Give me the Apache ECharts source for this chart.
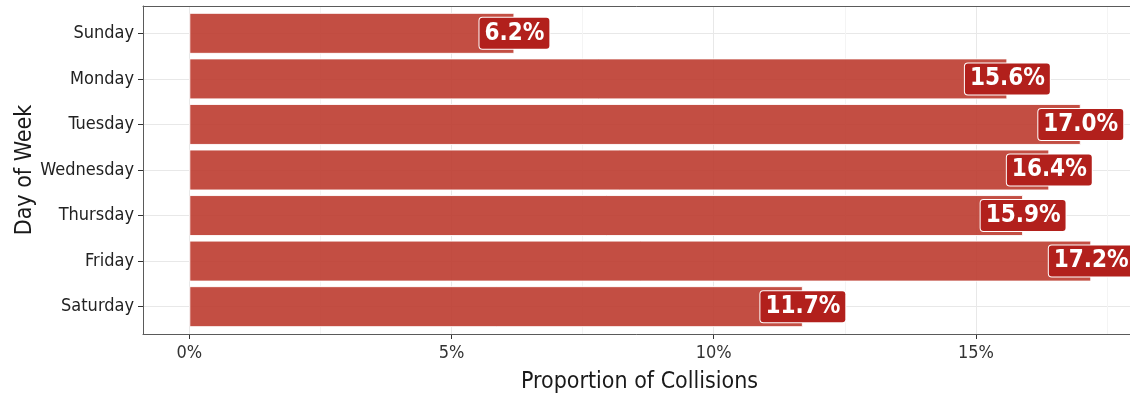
<!DOCTYPE html>
<html>
<head>
<meta charset="utf-8">
<script src="https://cdn.jsdelivr.net/npm/echarts@6/dist/echarts.min.js"></script>
<style>
  html, body { margin: 0; padding: 0; background: #fff; }
  #chart { width: 1130px; height: 398px; }
</style>
</head>
<body>
<div id="chart"></div>
<script>
// Share of collisions by day of week (percent)
const days = ['Sunday', 'Monday', 'Tuesday', 'Wednesday', 'Thursday', 'Friday', 'Saturday'];
const shares = [6.2, 15.6, 17.0, 16.4, 15.9, 17.2, 11.7];
const xTicks = [0, 5, 10, 15, 20];

const FONT = '"Liberation Sans Narrow", "DejaVu Sans Condensed", "Open Sans", sans-serif';

// panel geometry (ggplot-style expansion: 5% on x, 0.6 category units on y)
const panel = { left: 143, top: 6, width: 993, height: 328 };
const unitY = panel.height / (days.length - 1 + 1.2);
const pxPerPct = 52.44;
const zeroX = 189.3;
const xMax = xTicks[xTicks.length - 1];

const chart = echarts.init(document.getElementById('chart'), null, { renderer: 'canvas' });

const fixed = { outerBoundsMode: 'none', containLabel: false };
const frameLine = { show: true, lineStyle: { color: '#5a5a5a', width: 1 } };
const off = { show: false };

chart.setOption({
  animation: false,
  backgroundColor: '#fff',
  grid: [
    // 0: panel frame and axis titles
    Object.assign({ left: panel.left, top: panel.top, width: panel.width, height: panel.height }, fixed),
    // 1: category rows (labels, ticks, horizontal grid lines)
    Object.assign({ left: panel.left, top: panel.top + 0.6 * unitY, width: panel.width,
      height: (days.length - 1) * unitY }, fixed),
    // 2: percentage scale (labels, ticks, vertical grid lines)
    Object.assign({ left: zeroX, top: panel.top, width: xMax * pxPerPct, height: panel.height }, fixed),
    // 3: bars
    Object.assign({ left: zeroX, top: panel.top + 0.1 * unitY, width: xMax * pxPerPct,
      height: days.length * unitY }, fixed)
  ],
  xAxis: [
    { gridIndex: 0, type: 'value', min: 0, max: 1, position: 'bottom',
      axisLine: frameLine, axisTick: off, axisLabel: off, splitLine: off,
      name: 'Proportion of Collisions', nameLocation: 'middle', nameGap: 37,
      nameTextStyle: { fontFamily: FONT, fontSize: 23, color: '#1a1a1a' }, z: 5 },
    { gridIndex: 0, type: 'value', min: 0, max: 1, position: 'top',
      axisLine: frameLine, axisTick: off, axisLabel: off, splitLine: off, z: 5 },
    { gridIndex: 1, type: 'value', min: 0, max: 1, show: false },
    { gridIndex: 2, type: 'value', min: 0, max: xMax, interval: 5,
      axisLine: off,
      axisTick: { show: true, length: 5, lineStyle: { color: '#333', width: 1 } },
      axisLabel: { show: true, margin: 10, fontFamily: FONT, fontSize: 18, color: '#333',
        formatter: v => v + '%' },
      splitLine: { show: true, lineStyle: { color: '#e8e8e8', width: 1 } },
      minorTick: { show: false, splitNumber: 2 },
      minorSplitLine: { show: true, lineStyle: { color: '#f4f4f4', width: 1 } } },
    { gridIndex: 3, type: 'value', min: 0, max: xMax, show: false }
  ],
  yAxis: [
    { gridIndex: 0, type: 'value', min: 0, max: 1, position: 'left',
      axisLine: frameLine, axisTick: off, axisLabel: off, splitLine: off,
      name: 'Day of Week', nameLocation: 'middle', nameGap: 106, nameRotate: 90,
      nameTextStyle: { fontFamily: FONT, fontSize: 23, color: '#1a1a1a' }, z: 5 },
    { gridIndex: 1, type: 'value', min: 0, max: days.length - 1, interval: 1, inverse: true,
      axisLine: off,
      axisTick: { show: true, length: 5, lineStyle: { color: '#333', width: 1 } },
      axisLabel: { show: true, margin: 9, fontFamily: FONT, fontSize: 18, color: '#222',
        formatter: v => days[v] },
      splitLine: { show: true, lineStyle: { color: '#e8e8e8', width: 1 } } },
    { gridIndex: 2, type: 'value', min: 0, max: 1, show: false },
    { gridIndex: 3, type: 'category', data: days, inverse: true, show: false }
  ],
  series: [
    {
      type: 'bar',
      xAxisIndex: 4,
      yAxisIndex: 3,
      data: shares,
      barWidth: '90%',
      itemStyle: { color: '#bd3b2f', opacity: 0.9, borderColor: '#fff', borderWidth: 1 },
      label: {
        show: true,
        position: ['100%', '50%'],
        align: 'center',
        verticalAlign: 'middle',
        formatter: p => p.value.toFixed(1) + '%',
        fontFamily: FONT,
        fontWeight: 'bold',
        fontSize: 24,
        color: '#fff',
        opacity: 1,
        backgroundColor: '#b2201c',
        borderColor: '#fff',
        borderWidth: 1,
        borderRadius: 3,
        padding: [4, 5, 3, 5]
      },
      z: 3
    }
  ]
});
</script>
</body>
</html>
